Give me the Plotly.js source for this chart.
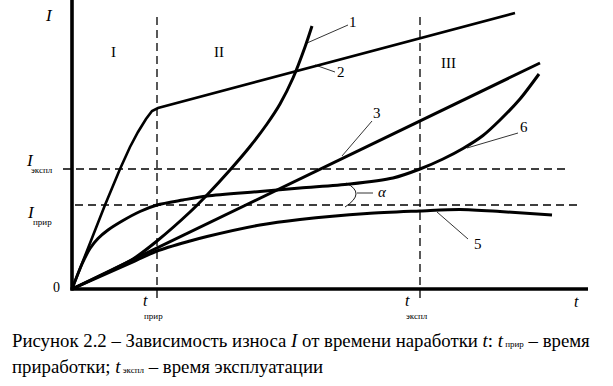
<!DOCTYPE html>
<html>
<head>
<meta charset="utf-8">
<script src="https://cdn.plot.ly/plotly-3.0.1.min.js"></script>
<style>html,body{margin:0;padding:0;background:#fff}#chart{width:613px;height:386px}</style>
</head>
<body>
<div id="chart"></div>
<script>
// Wear I versus operating time t (arbitrary units)
const t_prir = 8.5;    // running-in time
const t_expl = 34.8;   // operation time
const I_prir = 8.4;    // wear after running-in
const I_expl = 12.0;   // wear at operation time

const curve1_t = [0, 3.8, 6.1, 8.5, 11.8, 13.5, 15.8, 17.8, 19.5, 20.8, 22.1, 23.3, 24.0];
const curve1_I = [0, 1.8, 3.0, 4.8, 7.7, 9.4, 11.9, 14.25, 16.5, 18.5, 21.1, 24.2, 26.3];

const curve2_t = [0, 3.3, 4.8, 5.8, 6.6, 7.4, 8.0, 8.6, 44.3];
const curve2_I = [0, 8.4, 12.0, 14.2, 15.7, 17.0, 17.8, 18.1, 27.6];

const curve3_t = [0, 22.8, 34.8, 46.8];
const curve3_I = [0, 11.0, 16.8, 22.6];

const curve5_t = [0, 6.1, 8.5, 11.8, 13.5, 18.8, 22.8, 29.5, 34.8, 38.8, 42.8, 48.0];
const curve5_I = [0, 2.7, 3.8, 4.8, 5.25, 6.4, 6.95, 7.55, 7.8, 7.95, 7.75, 7.4];

const curve6_t = [0, 1.0, 1.8, 2.6, 3.6, 5.1, 6.8, 8.5, 11.1, 13.5, 18.8, 22.8, 27.8, 32.1, 34.8, 37.1, 39.1, 41.1, 42.8, 44.8, 46.7];
const curve6_I = [0, 2.5, 4.05, 5.05, 5.9, 6.85, 7.75, 8.4, 8.9, 9.3, 9.75, 10.1, 10.5, 11.1, 12.0, 13.0, 14.05, 15.35, 16.9, 19.0, 21.5];

const tMax = 51.6, IMax = 28.9;

const serif = 'Liberation Serif, Times New Roman, serif';
const black = '#000';

function curve(x, y, w, shape) {
  return {x: x, y: y, type: 'scatter', mode: 'lines', hoverinfo: 'skip',
          line: {color: black, width: w, shape: shape || 'linear', smoothing: 0.8}};
}

const data = [
  curve(curve1_t, curve1_I, 3, 'spline'),
  curve(curve2_t, curve2_I, 2.6, 'linear'),
  curve(curve3_t, curve3_I, 3, 'linear'),
  curve(curve5_t, curve5_I, 3, 'spline'),
  curve(curve6_t, curve6_I, 3, 'spline')
];

const dash = '8px,5px';
function ln(x0, y0, x1, y1, w, d) {
  return {type: 'line', xref: 'x', yref: 'y', x0: x0, y0: y0, x1: x1, y1: y1,
          line: {color: black, width: w, dash: d || 'solid'}};
}

const shapes = [
  // reference dashed lines
  ln(t_prir, -0.9, t_prir, 27.6, 1.3, dash),
  ln(t_expl, -0.9, t_expl, 27.6, 1.3, dash),
  ln(-0.9, I_expl, 49.4, I_expl, 1.3, dash),
  ln(0.3, I_prir, 50.6, I_prir, 1.3, dash),
  // axes
  ln(0, -0.15, 0, IMax + 0.2, 3.6),
  ln(-0.15, 0, tMax, 0, 3.6),
  // leader lines
  ln(23.5, 24.6, 27.6, 26.4, 0.8),
  ln(24.3, 22.4, 26.3, 21.7, 0.8),
  ln(27.0, 13.3, 30.0, 16.8, 0.8),
  ln(39.5, 14.1, 44.6, 15.6, 0.8),
  ln(36.5, 7.7, 39.6, 5.0, 0.8),
  ln(28.5, 9.6, 30.1, 9.6, 0.8),
  // angle arc
  {type: 'path', xref: 'x', yref: 'y', path: 'M 27.4,10.6 Q 29.45,9.6 27.3,8.2',
   line: {color: black, width: 0.9}}
];

function txt(x, y, s, size, opts) {
  return Object.assign({x: x, y: y, xref: 'x', yref: 'y', text: s, showarrow: false,
          xanchor: 'center', yanchor: 'middle', font: {family: serif, size: size, color: black}}, opts || {});
}
const sub = s => '<span style="font-size:9px">' + s + '</span>';

const annotations = [
  txt(-2.3, 27.4, '<i>I</i>', 17),
  txt(4.1, 23.7, 'I', 15),
  txt(14.7, 23.7, 'II', 15),
  txt(37.6, 22.6, 'III', 15),
  txt(-1.6, 0.2, '0', 14),
  txt(50.4, -1.2, '<i>t</i>', 16),
  txt(7.3, -1.1, '<i>t</i>', 16),
  txt(8.1, -2.65, sub('прир'), 9),
  txt(33.5, -1.1, '<i>t</i>', 16),
  txt(34.5, -2.65, sub('экспл'), 9),
  txt(-4.2, 12.9, '<i>I</i>', 17),
  txt(-3.0, 11.9, sub('экспл'), 9),
  txt(-4.1, 7.7, '<i>I</i>', 17),
  txt(-3.0, 6.7, sub('прир'), 9),
  txt(28.1, 26.7, '1', 15),
  txt(26.9, 21.7, '2', 15),
  txt(30.5, 17.6, '3', 15),
  txt(45.2, 16.2, '6', 15),
  txt(40.6, 4.5, '5', 15),
  txt(31.0, 9.7, '<i>α</i>', 15),
  {x: 10/613, y: 1 - 340/386, xref: 'paper', yref: 'paper', xanchor: 'left', yanchor: 'middle', showarrow: false,
   text: 'Рисунок 2.2 – Зависимость износа <i>I</i> от времени наработки <i>t</i>: <i>t</i>' + sub(' прир') + ' – время',
   font: {family: serif, size: 18.8, color: black}},
  {x: 10/613, y: 1 - 366/386, xref: 'paper', yref: 'paper', xanchor: 'left', yanchor: 'middle', showarrow: false,
   text: 'приработки; <i>t</i>' + sub(' экспл') + ' – время эксплуатации',
   font: {family: serif, size: 18.8, color: black}}
];

const layout = {
  width: 613, height: 386,
  margin: {l: 0, r: 0, t: 0, b: 0, pad: 0},
  paper_bgcolor: '#fff', plot_bgcolor: '#fff',
  showlegend: false,
  xaxis: {range: [-7.2, 54.1], visible: false, fixedrange: true},
  yaxis: {range: [-9.7, 28.9], visible: false, fixedrange: true},
  shapes: shapes,
  annotations: annotations
};

Plotly.newPlot('chart', data, layout, {staticPlot: true, displayModeBar: false});
</script>
</body>
</html>
